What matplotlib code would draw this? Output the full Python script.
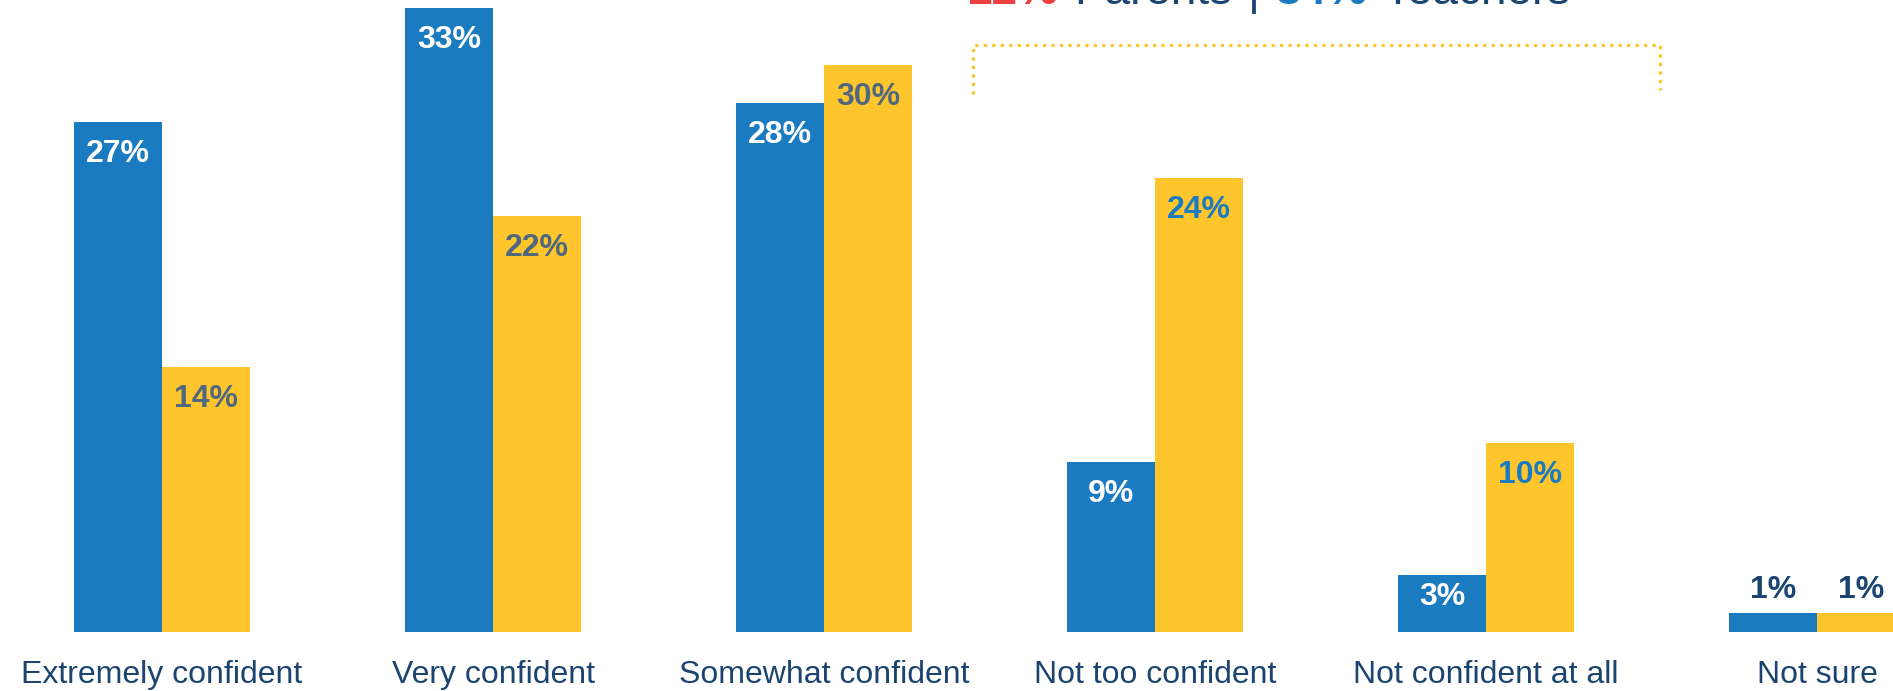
import numpy as np
import matplotlib
matplotlib.use("Agg")
import matplotlib.pyplot as plt

plt.rcParams["font.family"] = ["Liberation Sans", "DejaVu Sans"]

categories = ["Extremely confident", "Very confident", "Somewhat confident",
              "Not too confident", "Not confident at all", "Not sure"]
parents = [27, 33, 28, 9, 3, 1]
teachers = [14, 22, 30, 24, 10, 1]

BLUE = "#1A7BC0"
YELLOW = "#FFC52D"
NAVY = "#1B4470"
SLATE = "#50687E"
RED = "#EE4040"

parent_label_colors = ["white", "white", "white", "white", "white", NAVY]
teacher_label_colors = [SLATE, SLATE, SLATE, BLUE, BLUE, NAVY]

W, H = 1893, 691
fig = plt.figure(figsize=(W / 100, H / 100), dpi=100)

# plot area: bars sit on a baseline 59 px above the bottom edge
base_px = 632
px_per_pct = 18.9
group_px = 331
first_px = 162
ax = fig.add_axes([0, (H - base_px) / H, 1, base_px / H])
ax.set_xlim(-first_px / group_px, (W - first_px) / group_px)
ax.set_ylim(0, base_px / px_per_pct)

x = np.arange(len(categories))
w = 88 / group_px
ax.bar(x - w / 2, parents, w, color=BLUE)
ax.bar(x + w / 2, teachers, w, color=YELLOW)


def label(xc, v, color):
    if v >= 5:
        off = -32
    elif v >= 2:
        off = -22
    else:
        off = 23
    ax.annotate(f"{v}%", (xc, v), xytext=(0, off), textcoords="offset pixels",
                ha="center", va="center", fontsize=23, fontweight="bold",
                color=color)


for i in range(len(categories)):
    label(x[i] - w / 2, parents[i], parent_label_colors[i])
    label(x[i] + w / 2, teachers[i], teacher_label_colors[i])

ax.set_xticks(x, categories, fontsize=23, color=NAVY)
ax.tick_params(axis="x", length=0, pad=20)
ax.set_yticks([])
for s in ax.spines.values():
    s.set_visible(False)

# dotted bracket over the two "not confident" groups
bx = (np.array([973, 973, 1660, 1660]) - first_px) / group_px
by = (base_px - np.array([94, 44.7, 44.7, 90])) / px_per_pct
ax.plot(bx, by, color=YELLOW, lw=2.3, ls=":", clip_on=False)

# headline, partly above the top edge
pieces = [("12%", RED, "bold"), ("Parents", NAVY, "normal"), ("|", NAVY, "normal"),
          ("34%", BLUE, "bold"), ("Teachers", NAVY, "normal")]
renderer = fig.canvas.get_renderer()
xpos = 966
for txt, col, wt in pieces:
    t = fig.text(xpos / W, 1 - 4 / H, txt, color=col, fontweight=wt, fontsize=33,
                 ha="left", va="baseline")
    bb = t.get_window_extent(renderer)
    xpos = bb.x1 + 16

fig.savefig("out.png", dpi=100)
